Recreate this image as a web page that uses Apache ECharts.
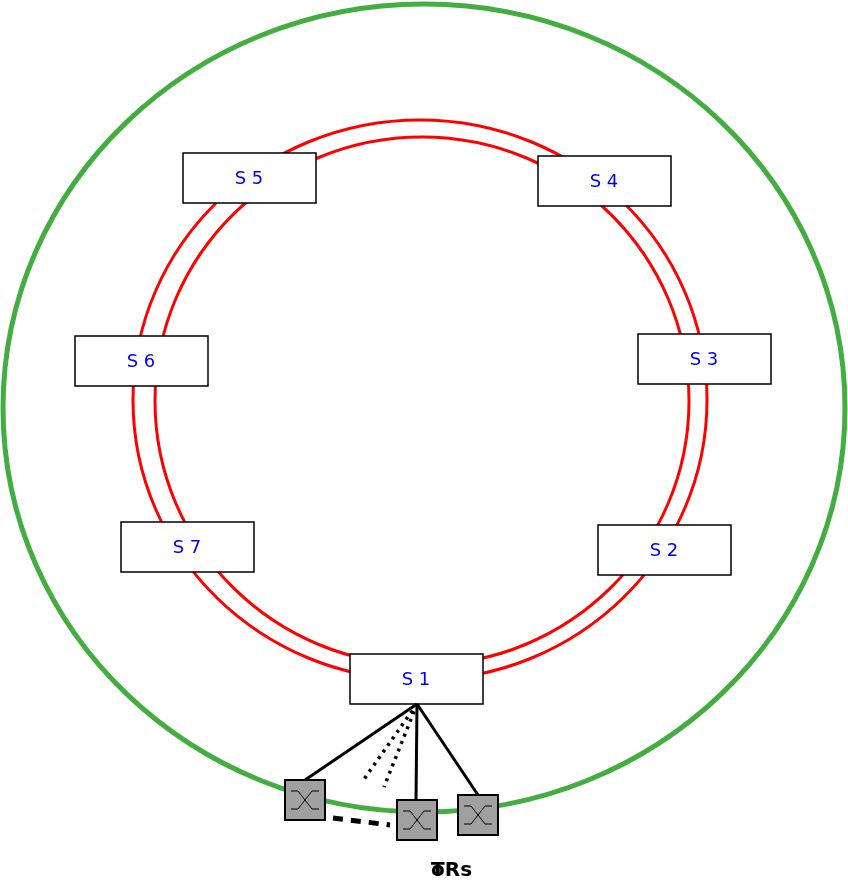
<!DOCTYPE html><html><head><meta charset="utf-8"><script src="https://cdn.jsdelivr.net/npm/echarts@6/dist/echarts.min.js"></script>
<style>html,body{margin:0;padding:0;background:#fff}#c{width:848px;height:883px}</style></head><body><div id="c"></div><script>
const serverLabels=['S 1','S 2','S 3','S 4','S 5','S 6','S 7'];
const serverBoxes=[[350,654],[598,525],[638,334],[538,156],[183,153],[75,336],[121,522]];
const switches=[[285,780],[397,800],[458,795]];
const solidLinks=[[305,780],[416,800],[478,795]];
const dottedLinks=[[362,782],[384,787]];
const hub=[417,704];
const g=[];
g.push({type:'ellipse',shape:{cx:424,cy:408,rx:421,ry:404},style:{fill:'none',stroke:'#44ad40',lineWidth:5}});
g.push({type:'ellipse',shape:{cx:420,cy:400,rx:287,ry:280},style:{fill:'none',stroke:'#ff0000',lineWidth:3}});
g.push({type:'ellipse',shape:{cx:422,cy:401,rx:267,ry:264},style:{fill:'none',stroke:'#ff0000',lineWidth:3}});
serverBoxes.forEach((b,i)=>{
 g.push({type:'rect',shape:{x:b[0],y:b[1],width:133,height:50},style:{fill:'#fff',stroke:'#000',lineWidth:1.5}});
 g.push({type:'text',x:b[0]+66,y:b[1]+26,style:{text:serverLabels[i],fill:'#0000ee',font:'18px "DejaVu Sans"',align:'center',verticalAlign:'middle'}});
});
solidLinks.forEach(p=>g.push({type:'line',shape:{x1:hub[0],y1:hub[1],x2:p[0],y2:p[1]},style:{stroke:'#000',lineWidth:3}}));
dottedLinks.forEach(p=>g.push({type:'line',shape:{x1:hub[0],y1:hub[1],x2:p[0],y2:p[1]},style:{stroke:'#000',lineWidth:3.5,lineDash:[3,5]}}));
g.push({type:'line',shape:{x1:333,y1:818,x2:390,y2:825},style:{stroke:'#000',lineWidth:5,lineDash:[10,8]}});
switches.forEach(s=>{
 const x=s[0],y=s[1];
 g.push({type:'rect',shape:{x:x,y:y,width:40,height:40},style:{fill:'#a0a0a0',stroke:'#000',lineWidth:2}});
 g.push({type:'polyline',shape:{points:[[x+6,y+11],[x+13,y+11],[x+27,y+29],[x+34,y+29]]},style:{stroke:'#000',lineWidth:1,fill:'none'}});
 g.push({type:'polyline',shape:{points:[[x+6,y+29],[x+13,y+29],[x+27,y+11],[x+34,y+11]]},style:{stroke:'#000',lineWidth:1,fill:'none'}});
});
g.push({type:'text',x:431,y:871,style:{text:'T',fill:'#000',font:'bold 20px "DejaVu Sans"',verticalAlign:'middle'}});
g.push({type:'text',x:431,y:871,style:{text:'oRs',fill:'#000',font:'bold 20px "DejaVu Sans"',verticalAlign:'middle'}});
const chart=echarts.init(document.getElementById('c'));
chart.setOption({animation:false,graphic:{elements:g}});
</script></body></html>
